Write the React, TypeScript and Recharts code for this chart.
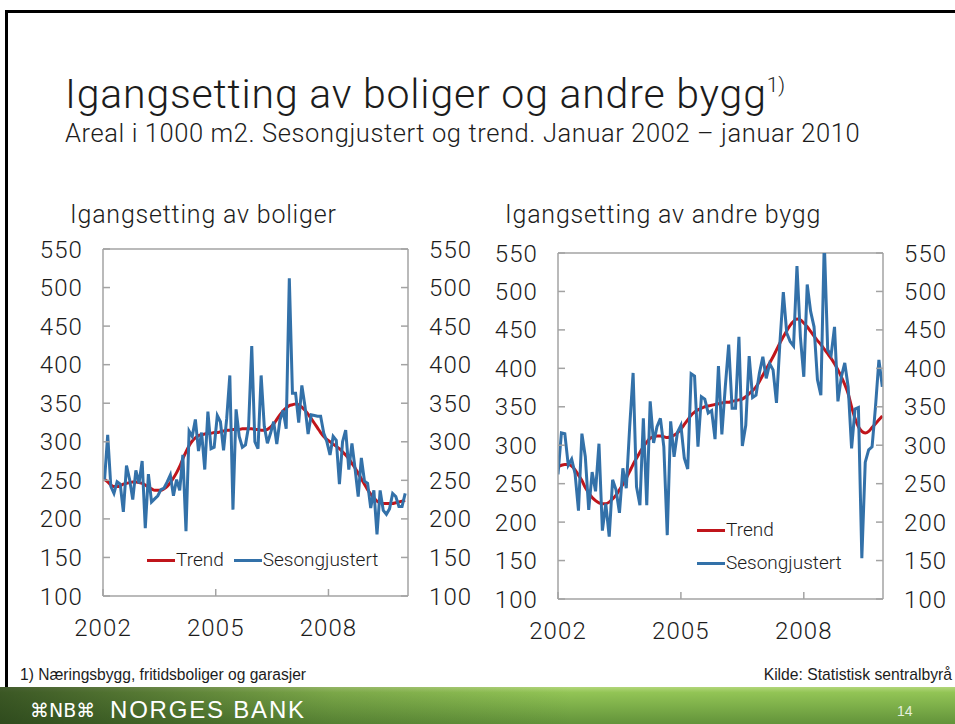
import React from 'react';
import { LineChart, Line, XAxis, YAxis, ReferenceLine, Legend } from 'recharts';

const FONT = 'Roboto, "Liberation Sans", Arial, sans-serif';
const SMALL_FONT = '"Liberation Sans", Arial, sans-serif';
const BLUE = '#3371a9';
const RED = '#c0151b';
const FRAME = '#a3a3a3';
const INK = '#1c1c1c';

const yearLabels = ['2002', '2005', '2008'];
const yTicks = [100, 150, 200, 250, 300, 350, 400, 450, 500, 550];
const seriesNames = ['Trend', 'Sesongjustert'];

// Igangsetting av boliger, jan 2002 - jan 2010 (monthly)
const boligerSesong = [
  251, 309, 242, 233, 248, 245, 209, 269, 251, 225, 263, 246,
  275, 188, 258, 222, 226, 230, 238, 240, 248, 257, 230, 251,
  237, 283, 184, 314, 307, 329, 288, 312, 264, 339, 291, 293,
  334, 326, 289, 330, 386, 212, 342, 307, 293, 296, 320, 424,
  300, 291, 386, 320, 298, 311, 326, 297, 328, 341, 317, 512,
  363, 363, 325, 373, 346, 310, 335, 334, 333, 333, 311, 300,
  283, 307, 302, 245, 300, 315, 264, 298, 265, 229, 279, 249,
  246, 214, 237, 180, 237, 211, 206, 213, 233, 229, 216, 216,
  233,
];
const boligerTrend = [
  251, 248, 244, 242, 242, 243, 245, 246, 247, 248, 248, 247,
  246, 244, 241, 239, 237, 237, 237, 239, 242, 247, 253, 260,
  268, 278, 287, 295, 301, 305, 308, 309, 310, 311, 311, 312,
  312, 313, 314, 315, 315, 316, 316, 316, 317, 317, 317, 317,
  316, 316, 315, 315, 316, 319, 323, 329, 335, 340, 344, 347,
  348, 349, 348, 345, 341, 336, 330, 324, 318, 312, 307, 303,
  300, 297, 294, 291, 287, 283, 278, 272, 266, 259, 252, 245,
  238, 232, 227, 223, 221, 220, 220, 220, 220, 221, 222, 223,
  224,
];

// Igangsetting av andre bygg
const andreSesong = [
  262, 316, 315, 274, 282, 263, 215, 315, 285, 216, 265, 240,
  302, 189, 224, 181, 255, 242, 212, 270, 244, 324, 394, 246,
  222, 335, 222, 357, 303, 324, 335, 298, 183, 331, 285, 317,
  326, 283, 269, 393, 390, 298, 363, 360, 342, 345, 308, 403,
  314, 376, 431, 348, 348, 441, 299, 326, 416, 362, 365, 394,
  415, 387, 406, 398, 355, 433, 499, 446, 435, 429, 533, 441,
  389, 509, 474, 454, 385, 365, 565, 424, 417, 454, 357, 389,
  407, 376, 296, 347, 349, 153, 278, 294, 298, 350, 411, 376,
];
const andreTrend = [
  272, 274, 275, 275, 273, 268, 261, 254, 245, 238, 232, 228,
  225, 224, 224, 226, 230, 235, 242, 249, 257, 266, 275, 283,
  291, 298, 304, 309, 311, 312, 312, 311, 310, 311, 313, 316,
  321, 327, 333, 339, 343, 346, 348, 350, 351, 352, 353, 354,
  355, 356, 356, 357, 358, 359, 360, 363, 367, 371, 376, 383,
  391, 399, 407, 415, 424, 433, 441, 449, 456, 461, 464, 463,
  459, 454, 448, 442, 436, 431, 425, 419, 413, 406, 398, 389,
  379, 367, 350, 335, 324, 318, 316, 318, 323, 328, 333, 338,
];

const buildRows = (sesong: number[], trend: number[], offset: number) =>
  sesong.map((v, i) => ({ x: i + offset, sesong: v, trend: trend[i] }));

const boligerRows = buildRows(boligerSesong, boligerTrend, 0.5);
const andreRows = buildRows(andreSesong, andreTrend, 0);
const yearTicks = yearLabels.map((y) => (Number(y) - 2002) * 12);

const TICK_FS = 24;
const TICK_LS = 1.1;

const LeftTick = (props: any) => {
  const { x, y, payload } = props;
  return (
    <g>
      <line x1={x} x2={x + 7} y1={y} y2={y} stroke={FRAME} strokeWidth={1.5} />
      <text x={x - 20} y={y} dy={8.5} textAnchor="end" fontSize={TICK_FS} letterSpacing={TICK_LS} fill={INK} fontFamily={FONT} fontWeight={300}>
        {payload.value}
      </text>
    </g>
  );
};
const RightTick = (props: any) => {
  const { x, y, payload } = props;
  return (
    <g>
      <line x1={x} x2={x - 7} y1={y} y2={y} stroke={FRAME} strokeWidth={1.5} />
      <text x={x + 21} y={y} dy={8.5} textAnchor="start" fontSize={TICK_FS} letterSpacing={TICK_LS} fill={INK} fontFamily={FONT} fontWeight={300}>
        {payload.value}
      </text>
    </g>
  );
};
const BottomTick = (props: any) => {
  const { x, y, payload } = props;
  const label = yearLabels[yearTicks.indexOf(payload.value)];
  return (
    <g>
      <line x1={x} x2={x} y1={y} y2={y - 7} stroke={FRAME} strokeWidth={1.5} />
      <text x={x} y={y + 40} textAnchor="middle" fontSize={TICK_FS} letterSpacing={TICK_LS} fill={INK} fontFamily={FONT} fontWeight={300}>
        {label}
      </text>
    </g>
  );
};

const makeLegend = (vertical: boolean) => (props: any) => {
  const items = [...(props.payload || [])].sort(
    (a: any, b: any) => seriesNames.indexOf(a.value) - seriesNames.indexOf(b.value)
  );
  return (
    <div
      style={{
        display: 'flex',
        flexDirection: vertical ? 'column' : 'row',
        gap: vertical ? 9 : 10,
        fontFamily: FONT,
        fontWeight: 300,
        fontSize: 19,
        color: INK,
        whiteSpace: 'nowrap',
      }}
    >
      {items.map((it: any) => (
        <div key={it.value} style={{ display: 'flex', alignItems: 'center', lineHeight: '24px' }}>
          <span style={{ display: 'inline-block', width: 28, height: 3, background: it.color, marginRight: 1 }} />
          <span>{it.value}</span>
        </div>
      ))}
    </div>
  );
};

type PanelProps = {
  rows: any[];
  xMax: number;
  width: number;
  height: number;
  leftW: number;
  rightW: number;
  top: number;
  bottom: number;
  legendPos: { left: number; top: number };
  verticalLegend: boolean;
};

const Panel = ({ rows, xMax, width, height, leftW, rightW, top, bottom, legendPos, verticalLegend }: PanelProps) => (
  <LineChart width={width} height={height} data={rows} margin={{ top, right: 0, bottom, left: 0 }}>
    <XAxis
      dataKey="x"
      type="number"
      domain={[0, xMax]}
      ticks={yearTicks}
      interval={0}
      allowDataOverflow
      height={40}
      tickSize={0}
      tickMargin={0}
      tickLine={false}
      axisLine={{ stroke: FRAME, strokeWidth: 1.5 }}
      tick={<BottomTick />}
    />
    <YAxis
      yAxisId="left"
      orientation="left"
      domain={[100, 550]}
      ticks={yTicks}
      interval={0}
      allowDataOverflow
      width={leftW}
      tickSize={0}
      tickMargin={0}
      tickLine={false}
      axisLine={{ stroke: FRAME, strokeWidth: 1.5 }}
      tick={<LeftTick />}
    />
    <YAxis
      yAxisId="right"
      orientation="right"
      domain={[100, 550]}
      ticks={yTicks}
      interval={0}
      allowDataOverflow
      width={rightW}
      tickSize={0}
      tickMargin={0}
      tickLine={false}
      axisLine={{ stroke: FRAME, strokeWidth: 1.5 }}
      tick={<RightTick />}
    />
    <ReferenceLine yAxisId="left" y={550} stroke={FRAME} strokeWidth={1.5} />
    <Line
      yAxisId="left"
      dataKey="trend"
      name={seriesNames[0]}
      type="monotone"
      stroke={RED}
      strokeWidth={3}
      dot={false}
      activeDot={false}
      isAnimationActive={false}
    />
    <Line
      yAxisId="left"
      dataKey="sesong"
      name={seriesNames[1]}
      type="linear"
      stroke={BLUE}
      strokeWidth={3}
      dot={false}
      activeDot={false}
      isAnimationActive={false}
    />
    <Legend
      layout="vertical"
      align="center"
      verticalAlign="middle"
      content={makeLegend(verticalLegend)}
      wrapperStyle={{ left: legendPos.left, top: legendPos.top, width: 'auto' }}
    />
  </LineChart>
);

export default function App() {
  return (
    <div style={{ position: 'absolute', left: 0, top: 0, width: 955, height: 724, background: '#fff', overflow: 'hidden' }}>
      <svg width={955} height={724} style={{ position: 'absolute', left: 0, top: 0 }}>
        <defs>
          <linearGradient id="bannerV" x1="0" y1="0" x2="0" y2="1">
            <stop offset="0" stopColor="#b2d67a" />
            <stop offset="0.15" stopColor="#92c455" />
            <stop offset="1" stopColor="#62933a" />
          </linearGradient>
          <linearGradient id="bannerH" x1="0" y1="0" x2="1" y2="0">
            <stop offset="0" stopColor="#1e3314" stopOpacity={0.75} />
            <stop offset="0.35" stopColor="#1e3314" stopOpacity={0.2} />
            <stop offset="0.6" stopColor="#1e3314" stopOpacity={0} />
          </linearGradient>
        </defs>
        <rect x={5} y={10} width={950} height={3} fill="#000" />
        <rect x={5} y={10} width={3} height={678} fill="#000" />
        <text x={65} y={108} fontSize={41} letterSpacing={0.8} fontFamily={FONT} fontWeight={300} fill={INK}>
          Igangsetting av boliger og andre bygg
          <tspan fontSize={21} letterSpacing={0} dy={-16}>1)</tspan>
        </text>
        <text x={65} y={142} fontSize={25.5} letterSpacing={0.6} fontFamily={FONT} fontWeight={300} fill={INK}>
          Areal i 1000 m2. Sesongjustert og trend. Januar 2002 – januar 2010
        </text>
        <text x={70} y={223} fontSize={25} letterSpacing={0.8} fontFamily={FONT} fontWeight={300} fill={INK}>
          Igangsetting av boliger
        </text>
        <text x={505} y={223} fontSize={25} letterSpacing={0.8} fontFamily={FONT} fontWeight={300} fill={INK}>
          Igangsetting av andre bygg
        </text>
        <text x={20} y={680} fontSize={15.6} fontFamily={SMALL_FONT} fill={INK}>
          1) Næringsbygg, fritidsboliger og garasjer
        </text>
        <text x={952} y={680} fontSize={15.7} fontFamily={SMALL_FONT} fill={INK} textAnchor="end">
          Kilde: Statistisk sentralbyrå
        </text>
        <rect x={0} y={687} width={955} height={37} fill="url(#bannerV)" />
        <rect x={0} y={687} width={955} height={37} fill="url(#bannerH)" />
        <text x={30} y={717} fontSize={19} fontFamily='"DejaVu Sans", sans-serif' fill="#fff">
          ⌘NB⌘
        </text>
        <text x={110} y={718} fontSize={24} fontFamily={SMALL_FONT} fill="#fff" letterSpacing={1.8}>
          NORGES BANK
        </text>
        <text x={897} y={716} fontSize={14} fontFamily={SMALL_FONT} fill="#e6f0dc">
          14
        </text>
      </svg>
      <div style={{ position: 'absolute', left: 0, top: 230 }}>
        <Panel
          rows={boligerRows}
          xMax={97.4}
          width={480}
          height={420}
          leftW={103}
          rightW={72}
          top={19}
          bottom={14}
          legendPos={{ left: 147, top: 318 }}
          verticalLegend={false}
        />
      </div>
      <div style={{ position: 'absolute', left: 470, top: 230 }}>
        <Panel
          rows={andreRows}
          xMax={95.2}
          width={485}
          height={420}
          leftW={88}
          rightW={72}
          top={23}
          bottom={11}
          legendPos={{ left: 227, top: 288 }}
          verticalLegend={true}
        />
      </div>
    </div>
  );
}
